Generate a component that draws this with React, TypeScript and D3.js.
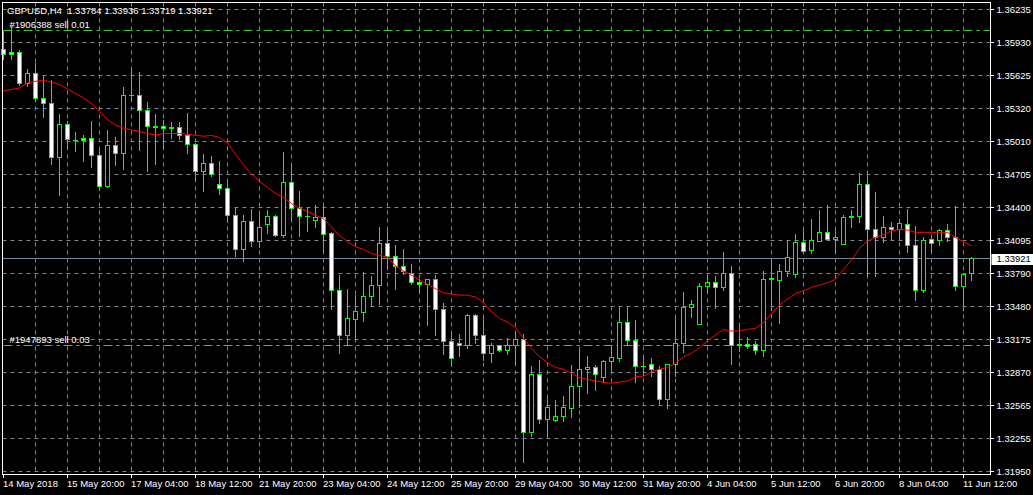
import React from "react";
import * as d3 from "d3";

const symbolTitle = "GBPUSD,H4  1.33784 1.33936 1.33719 1.33921";

const openP = [
1.35864,1.35836,1.35836,1.35549,1.35642,1.35410,1.35363,1.34863,1.35169,1.35023,
1.35035,1.35039,1.34881,1.34590,1.34974,1.34900,1.35436,1.35438,1.35299,1.35146,
1.35150,1.35144,1.35141,1.35067,1.34983,1.34729,1.34807,1.34613,1.34575,1.34325,
1.34010,1.34272,1.34084,1.34238,1.34316,1.34140,1.34631,1.34390,1.34319,1.34279,
1.34307,1.34158,1.33630,1.33213,1.33361,1.33426,1.33574,1.33676,1.34066,1.33945,
1.33852,1.33787,1.33707,1.33686,1.33732,1.33454,1.33157,1.33139,1.33120,1.33401,
1.33213,1.33046,1.33120,1.33070,1.33120,1.33176,1.32314,1.32851,1.32434,1.32421,
1.32462,1.32532,1.32740,1.32898,1.32916,1.32820,1.32972,1.33000,1.33333,1.33166,
1.32928,1.32944,1.32898,1.32619,1.32944,1.33139,1.33472,1.33315,1.33663,1.33704,
1.33658,1.33787,1.33126,1.33132,1.33129,1.33070,1.33732,1.33725,1.33802,1.33781,
1.34075,1.33997,1.34084,1.34168,1.34103,1.34056,1.34312,1.34312,1.34613,1.34195,
1.34124,1.34214,1.34195,1.34245,1.34047,1.33630,1.34103,1.34096,1.34189,1.34124,
1.33663,1.33784];

const highP = [
1.36027,1.36073,1.35857,1.35681,1.35734,1.35616,1.35579,1.35261,1.35193,1.35097,
1.35070,1.35199,1.34924,1.35116,1.35048,1.35512,1.35688,1.35654,1.35375,1.35264,
1.35202,1.35190,1.35184,1.35271,1.34995,1.34893,1.34875,1.34829,1.34637,1.34390,
1.34328,1.34381,1.34344,1.34371,1.34323,1.34912,1.34801,1.34550,1.34390,1.34421,
1.34405,1.34168,1.33769,1.33642,1.33586,1.33800,1.33762,1.34214,1.34182,1.34047,
1.34013,1.33871,1.33732,1.33735,1.33769,1.33509,1.33241,1.33225,1.33410,1.33406,
1.33370,1.33139,1.33123,1.33185,1.33253,1.33218,1.32922,1.32975,1.32625,1.32604,
1.32644,1.32937,1.33076,1.33014,1.32937,1.32975,1.33120,1.33472,1.33472,1.33355,
1.33021,1.33000,1.32922,1.32947,1.33370,1.33611,1.33540,1.33695,1.33772,1.33762,
1.33982,1.33849,1.33308,1.33197,1.33153,1.33806,1.33917,1.33874,1.34096,1.34152,
1.34189,1.34291,1.34374,1.34421,1.34189,1.34328,1.34374,1.34714,1.34699,1.34535,
1.34312,1.34257,1.34257,1.34384,1.34226,1.34121,1.34121,1.34198,1.34245,1.34405,
1.33781,1.33936];

const lowP = [
1.35771,1.35771,1.35533,1.35524,1.35394,1.35230,1.34801,1.34507,1.34946,1.34921,
1.34829,1.34766,1.34553,1.34585,1.34791,1.34754,1.35394,1.34924,1.34729,1.34801,
1.34943,1.35042,1.35032,1.34900,1.34652,1.34544,1.34683,1.34523,1.34257,1.33941,
1.33895,1.34034,1.34028,1.34158,1.34133,1.34121,1.34282,1.34127,1.34173,1.34210,
1.34003,1.33454,1.33046,1.33120,1.33176,1.33339,1.33484,1.33503,1.33834,1.33639,
1.33781,1.33688,1.33608,1.33302,1.33209,1.33039,1.32922,1.33014,1.33089,1.33139,
1.32984,1.32959,1.33061,1.33039,1.32947,1.32032,1.32273,1.32391,1.32273,1.32418,
1.32412,1.32449,1.32545,1.32675,1.32699,1.32773,1.32891,1.32968,1.33120,1.32773,
1.32845,1.32829,1.32567,1.32532,1.32829,1.33051,1.33380,1.33315,1.33608,1.33459,
1.33626,1.32940,1.33061,1.33089,1.33037,1.33014,1.33441,1.33324,1.33756,1.33750,
1.33973,1.33973,1.34082,1.34090,1.33973,1.34054,1.34214,1.34257,1.33756,1.33756,
1.34071,1.34103,1.34103,1.33978,1.33534,1.33608,1.34003,1.34047,1.34087,1.33626,
1.33441,1.33719];

const closeP = [
1.35820,1.35818,1.35549,1.35642,1.35410,1.35363,1.34863,1.35169,1.35030,1.35019,
1.35017,1.34878,1.34590,1.34974,1.34900,1.35438,1.35433,1.35301,1.35150,1.35145,
1.35128,1.35134,1.35067,1.34983,1.34729,1.34807,1.34705,1.34575,1.34321,1.34010,
1.34272,1.34084,1.34214,1.34316,1.34140,1.34631,1.34390,1.34316,1.34314,1.34307,
1.34149,1.33630,1.33213,1.33370,1.33435,1.33574,1.33676,1.34066,1.33945,1.33849,
1.33806,1.33700,1.33686,1.33732,1.33454,1.33157,1.32996,1.33120,1.33401,1.33213,
1.33046,1.33114,1.33070,1.33114,1.33176,1.32314,1.32851,1.32434,1.32545,1.32462,
1.32539,1.32740,1.32898,1.32919,1.32851,1.32972,1.33009,1.33333,1.33166,1.32922,
1.32925,1.32898,1.32619,1.32944,1.33139,1.33472,1.33500,1.33670,1.33704,1.33658,
1.33787,1.33120,1.33123,1.33107,1.33076,1.33732,1.33741,1.33806,1.33936,1.34075,
1.33991,1.34090,1.34168,1.34103,1.34124,1.34309,1.34310,1.34613,1.34195,1.34124,
1.34214,1.34195,1.34251,1.34047,1.33630,1.34096,1.34066,1.34189,1.34124,1.33670,
1.33781,1.33921];

const maP = [
1.35480,1.35493,1.35508,1.35554,1.35570,1.35577,1.35561,1.35540,1.35499,1.35456,
1.35415,1.35363,1.35286,1.35215,1.35162,1.35134,1.35119,1.35104,1.35085,1.35070,
1.35085,1.35085,1.35085,1.35079,1.35067,1.35060,1.35067,1.35048,1.34998,1.34893,
1.34791,1.34708,1.34643,1.34585,1.34529,1.34492,1.34436,1.34390,1.34365,1.34328,
1.34294,1.34219,1.34140,1.34080,1.34034,1.34010,1.33973,1.33954,1.33939,1.33858,
1.33812,1.33769,1.33725,1.33686,1.33645,1.33608,1.33596,1.33586,1.33586,1.33568,
1.33515,1.33432,1.33370,1.33336,1.33287,1.33185,1.33092,1.33014,1.32959,1.32916,
1.32898,1.32860,1.32820,1.32805,1.32792,1.32777,1.32768,1.32780,1.32789,1.32829,
1.32835,1.32875,1.32898,1.32916,1.32953,1.33014,1.33046,1.33098,1.33163,1.33216,
1.33268,1.33253,1.33253,1.33268,1.33278,1.33330,1.33417,1.33494,1.33549,1.33602,
1.33626,1.33658,1.33679,1.33700,1.33732,1.33825,1.33911,1.34019,1.34087,1.34121,
1.34149,1.34180,1.34195,1.34189,1.34168,1.34168,1.34168,1.34168,1.34168,1.34121,
1.34080,1.34043];

const priceTicks = [1.36235,1.35930,1.35625,1.35320,1.35010,1.34705,1.34400,1.34095,1.33790,1.33480,1.33175,1.32870,1.32565,1.32255,1.31950];

const timeLabels = ["14 May 2018","15 May 20:00","17 May 04:00","18 May 12:00","21 May 20:00","23 May 04:00","24 May 12:00","25 May 20:00","29 May 04:00","30 May 12:00","31 May 20:00","4 Jun 04:00","5 Jun 12:00","6 Jun 20:00","8 Jun 04:00","11 Jun 12:00"];
const timeLabelStep = 8;

const orderPrices = [1.36040, 1.33121];
const orderLabels = ["#1906388 sell 0.01", "#1947893 sell 0.03"];
const currentPrice = 1.33921;

const W = 1033, H = 495;
const FONT = "'Liberation Sans', Arial, sans-serif";
const GRID = "#778899";
const CANDLE = "#00ff00";

export default function App() {
  const n = openP.length;
  const x = d3.scaleLinear().domain([0, n - 1]).range([3.5, 3.5 + 8 * (n - 1)]);
  const y = d3.scaleLinear().domain([1.31950, 1.36235]).range([471.5, 9.5]);
  const py = (v: number) => Math.round(y(v) - 0.5) + 0.5;
  const left = 2.5, right = 990.5, top = 2.5, bottom = 474.5;

  const maLine = d3.line<number>().x((_, i) => x(i)).y((d) => y(d))(maP) || "";

  const vGrid = d3.range(4, n, 4).filter((i) => x(i) < right);

  return (
    <svg width={W} height={H} style={{ position: "absolute", left: 0, top: 0, display: "block" }}
      fontFamily={FONT}>
      <rect x={0} y={0} width={W} height={H} fill="#000" />
      {/* grid */}
      {priceTicks.map((t, k) => (
        <line key={"hg" + k} x1={left} x2={right} y1={py(t)} y2={py(t)} stroke={GRID} strokeDasharray="4,4" />
      ))}
      {vGrid.map((i) => (
        <line key={"vg" + i} x1={x(i)} x2={x(i)} y1={top} y2={bottom} stroke={GRID} strokeDasharray="4,4" />
      ))}
      {/* current price line */}
      <line x1={left} x2={right} y1={py(currentPrice)} y2={py(currentPrice)} stroke={GRID} />
      {/* order lines */}
      {orderPrices.map((p, k) => (
        <g key={"ord" + k}>
          <line x1={left + 1} x2={right} y1={py(p)} y2={py(p)} stroke="#32cd32" strokeDasharray="9,4,3,4" />
          <text x={9.5} y={py(p) - 2.5} fill="#ffffff" fontSize={9.5}>{orderLabels[k]}</text>
        </g>
      ))}
      {/* candles */}
      {openP.map((o, i) => {
        const c = closeP[i];
        const cx = x(i);
        const yh = py(highP[i]);
        const yl = py(lowP[i]);
        const yt = py(Math.max(o, c));
        const yb = py(Math.min(o, c));
        const bull = c > o;
        return (
          <g key={"c" + i}>
            <line x1={cx} x2={cx} y1={yh - 0.5} y2={yl + 0.5} stroke={CANDLE} />
            {yb - yt < 1 ? (
              <line x1={cx - 2.5} x2={cx + 2.5} y1={yt} y2={yt} stroke={CANDLE} />
            ) : (
              <rect x={cx - 2} y={yt} width={4} height={yb - yt} fill={bull ? "#000" : "#fff"} stroke={CANDLE} />
            )}
          </g>
        );
      })}
      {/* moving average */}
      <path d={maLine} fill="none" stroke="#ff0000" strokeWidth={1} />
      {/* frame */}
      <rect x={left} y={top} width={right - left} height={bottom - top} fill="none" stroke="#fff" />
      {/* price axis */}
      {priceTicks.map((t, k) => (
        <g key={"pt" + k}>
          <line x1={right} x2={right + 3.5} y1={py(t)} y2={py(t)} stroke="#fff" />
          <text x={996.5} y={py(t) + 3.5} fill="#fff" fontSize={9.5}>{t.toFixed(5)}</text>
        </g>
      ))}
      <rect x={991.5} y={py(currentPrice) - 4.5} width={42} height={11} fill="#fff" />
      <text x={996.5} y={py(currentPrice) + 3.5} fill="#000" fontSize={9.5}>{currentPrice.toFixed(5)}</text>
      {/* time axis */}
      {timeLabels.map((lab, k) => {
        const tx = x(k * timeLabelStep);
        return (
          <g key={"tl" + k}>
            <line x1={tx} x2={tx} y1={bottom} y2={478} stroke="#fff" />
            <text x={tx - 0.5} y={487} fill="#fff" fontSize={9.5}>{lab}</text>
          </g>
        );
      })}
      {/* title */}
      <text x={7} y={14} fill="#fff" fontSize={9.5}>{symbolTitle.replace("  ", "\u00a0\u00a0")}</text>
    </svg>
  );
}
